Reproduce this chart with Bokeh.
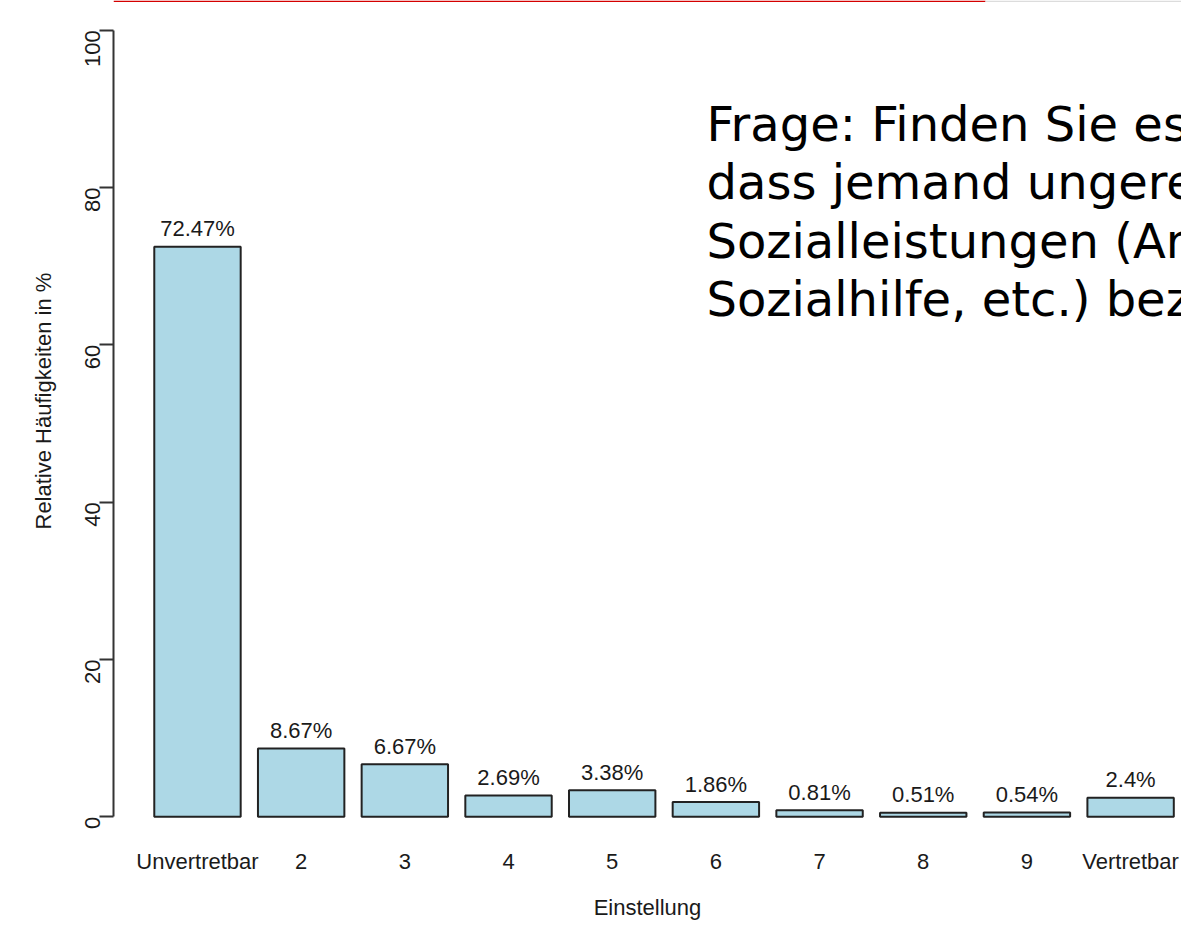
import math
from bokeh.plotting import figure
from bokeh.models import Range1d, FixedTicker, LinearAxis, ColumnDataSource, Title
from bokeh.core.properties import value
from bokeh.embed import file_html
from bokeh.resources import INLINE

# ---- data -------------------------------------------------------------
categories = ["Unvertretbar", "2", "3", "4", "5", "6", "7", "8", "9", "Vertretbar"]
percent = [72.47, 8.67, 6.67, 2.69, 3.38, 1.86, 0.81, 0.51, 0.54, 2.4]
bar_labels = ["72.47%", "8.67%", "6.67%", "2.69%", "3.38%", "1.86%",
              "0.81%", "0.51%", "0.54%", "2.4%"]
y_ticks = [0, 20, 40, 60, 80, 100]
y_title = "Relative Häufigkeiten in %"
x_title = "Einstellung"
question_lines = ["Frage: Finden Sie es vertretbar,",
                  "dass jemand ungerechtfertigt",
                  "Sozialleistungen (Arbeitslosengeld,",
                  "Sozialhilfe, etc.) bezieht?"]

# ---- layout (R barplot style: width 1, space 0.2) ---------------------
W, H = 1181, 922
FRAME_L, FRAME_B = 113, 68
BAR_W, SPACE = 1.0, 0.2
centers = [SPACE + BAR_W / 2 + i * (BAR_W + SPACE) for i in range(len(categories))]

frame_w = W - FRAME_L
frame_h = H - FRAME_B
X_SCALE = 86.4          # pixels per bar unit
X0 = -0.272
X1 = X0 + frame_w / X_SCALE
Y_SCALE = 7.92          # pixels per percent
Y1 = 100 + 30 / Y_SCALE
Y0 = Y1 - frame_h / Y_SCALE


def px_x(px):
    return X0 + (px - FRAME_L) / X_SCALE


def px_y(py):
    return Y1 - py / Y_SCALE


FONT = value("Liberation Sans")
FS = "22px"
TXT = "#1a1a1a"

p = figure(width=W, height=H, output_backend="svg", toolbar_location=None,
           x_range=Range1d(X0, X1), y_range=Range1d(Y0, Y1),
           x_axis_type=None, y_axis_type=None,
           min_border_left=FRAME_L, min_border_right=0,
           min_border_top=0, min_border_bottom=FRAME_B)
p.outline_line_color = None
p.background_fill_color = "white"
p.border_fill_color = "white"

# y axis
ya = LinearAxis(ticker=FixedTicker(ticks=y_ticks), bounds=(0, 100))
ya.axis_line_color = "#333333"
ya.axis_line_width = 2
ya.major_tick_line_color = "#333333"
ya.major_tick_line_width = 2
ya.major_tick_out = 14
ya.major_tick_in = 0
ya.minor_tick_out = 0
ya.minor_tick_in = 0
ya.major_label_orientation = math.pi / 2
ya.major_label_standoff = 7
ya.major_label_text_font = "Liberation Sans"
ya.major_label_text_font_size = FS
ya.major_label_text_color = TXT
p.add_layout(ya, "left")

# y axis title: starts (bottom end) at y = 535 px as in the original
p.add_layout(Title(text=y_title, align="left", offset=frame_h - 535,
                   vertical_align="middle", standoff=36,
                   text_font="Liberation Sans", text_font_size=FS,
                   text_font_style="normal", text_color=TXT), "left")

# x axis (category names only, no line / ticks)
xa = LinearAxis(ticker=FixedTicker(ticks=centers))
xa.major_label_overrides = {c: n for c, n in zip(centers, categories)}
xa.axis_line_color = None
xa.major_tick_line_color = None
xa.minor_tick_line_color = None
xa.major_tick_out = 0
xa.major_tick_in = 0
xa.minor_tick_out = 0
xa.minor_tick_in = 0
xa.major_label_standoff = 0
xa.major_label_text_font = "Liberation Sans"
xa.major_label_text_font_size = FS
xa.major_label_text_color = TXT
xa.axis_label = x_title
xa.axis_label_text_font = "Liberation Sans"
xa.axis_label_text_font_size = FS
xa.axis_label_text_font_style = "normal"
xa.axis_label_text_color = TXT
xa.axis_label_standoff = 18
p.add_layout(xa, "below")

src = ColumnDataSource(dict(x=centers, top=percent, label=bar_labels))
p.vbar(x="x", top="top", bottom=0, width=BAR_W, source=src,
       fill_color="#ADD8E6", line_color="#222222", line_width=2)
p.text(x="x", y="top", text="label", source=src, y_offset=-18,
       text_align="center", text_baseline="middle",
       text_font=FONT, text_font_size=FS, text_color=TXT)

# slide decoration line at the very top
p.quad(left=[X0, px_x(985)], right=[px_x(985), X1],
       top=[Y1, Y1], bottom=[px_y(1.5), px_y(1.5)],
       fill_color=["#d40000", "#dcdcdc"], line_color=None)

# question text (slide annotation, cut at the right edge as in the original)
p.text(x=[px_x(706)], y=[px_y(96)], text=["\n".join(question_lines)],
       text_align="left", text_baseline="top",
       text_font=value("DejaVu Sans"), text_font_size="48px",
       text_line_height=1.044, text_color="black")

open("out.html", "w").write(file_html(p, INLINE))
